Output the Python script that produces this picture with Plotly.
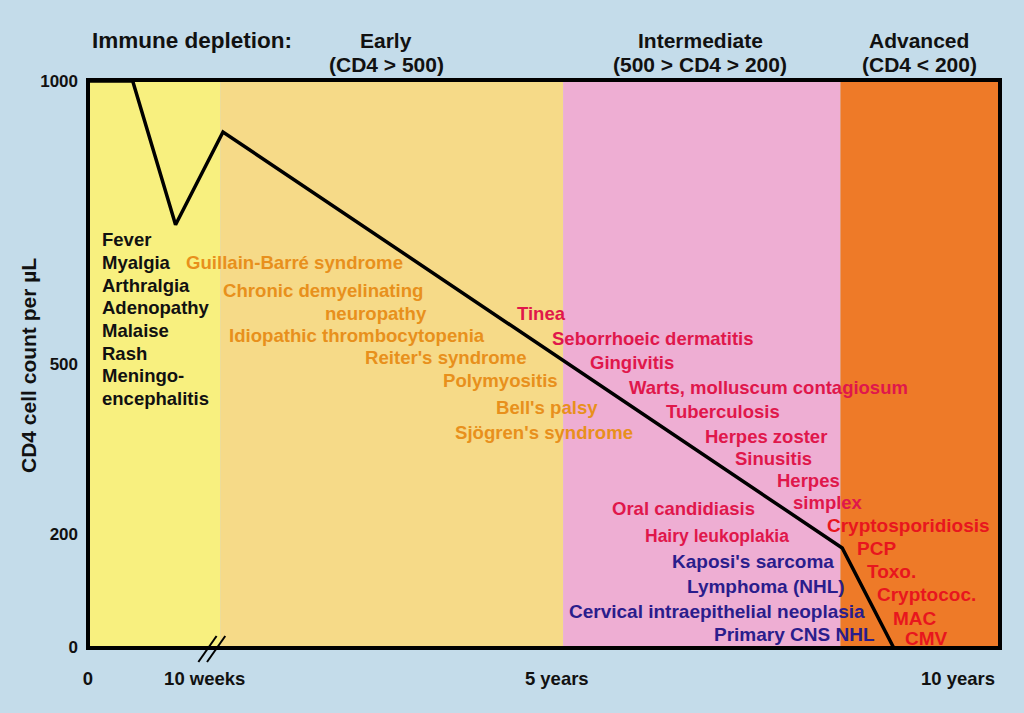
import plotly.graph_objects as go

# ---------------- data ----------------
# time axis in arbitrary "chart units" (0-100), axis is broken after 10 weeks
x_tick_vals = [0, 12.8, 51.4, 95.4]
x_tick_text = ["0", "10 weeks", "5 years", "10 years"]
y_tick_vals = [0, 200, 500, 1000]
y_tick_text = ["0", "200", "500", "1000"]

# CD4 count course
cd4_time = [0, 4.9, 9.6, 14.8, 82.7, 88.3]
cd4_count = [1000, 1000, 746, 910, 175, 0]

# stage bands (x edges) and colours
band_edges = [0, 14.5, 52.1, 82.5, 100]
band_colors = ["#f8f07f", "#f6da88", "#eeaed3", "#ee7a28"]

break_x = 13.6

stage_names = ["Early", "Intermediate", "Advanced"]
stage_ranges = ["(CD4 > 500)", "(500 > CD4 > 200)", "(CD4 < 200)"]

acute_symptoms = ["Fever", "Myalgia", "Arthralgia", "Adenopathy", "Malaise",
                  "Rash", "Meningo-", "encephalitis"]

early_conditions = ["Guillain-Barré syndrome", "Chronic demyelinating", "neuropathy",
                    "Idiopathic thrombocytopenia", "Reiter's syndrome",
                    "Polymyositis", "Bell's palsy", "Sjögren's syndrome"]

intermediate_conditions = ["Tinea", "Seborrhoeic dermatitis", "Gingivitis",
                           "Warts, molluscum contagiosum", "Tuberculosis",
                           "Herpes zoster", "Sinusitis", "Herpes", "simplex",
                           "Oral candidiasis", "Hairy leukoplakia"]

malignancies = ["Kaposi's sarcoma", "Lymphoma (NHL)",
                "Cervical intraepithelial neoplasia", "Primary CNS NHL"]

advanced_conditions = ["Cryptosporidiosis", "PCP", "Toxo.", "Cryptococ.", "MAC", "CMV"]

# ---------------- layout helpers ----------------
W, H = 1024, 713
ML, MR, MT, MB = 88, 24, 80, 65
PW, PH = W - ML - MR, H - MT - MB


def px(xp):
    return (xp - ML) / PW


def py(yp):
    return (H - MB - yp) / PH


FONT = "Liberation Sans, Arial, Helvetica, sans-serif"
BG = "#c4dcea"

fig = go.Figure()

shapes = []
for i, c in enumerate(band_colors):
    shapes.append(dict(type="rect", xref="x", yref="paper",
                       x0=band_edges[i], x1=band_edges[i + 1], y0=0, y1=1,
                       fillcolor=c, line=dict(width=0), layer="below"))

fig.add_trace(go.Scatter(x=cd4_time, y=cd4_count, mode="lines",
                         line=dict(color="black", width=3.5),
                         hoverinfo="skip", showlegend=False))

# border
shapes.append(dict(type="rect", xref="paper", yref="paper", x0=0, x1=1, y0=0, y1=1,
                   line=dict(color="black", width=4), layer="above"))
# axis break marks
for off in (-0.5, 0.45):
    shapes.append(dict(type="line", xref="x", yref="paper",
                       x0=break_x + off - 1.0, x1=break_x + off + 1.0,
                       y0=py(662), y1=py(636),
                       line=dict(color="black", width=2), layer="above"))

ann = []


def add_text(txt, xp, yp, color, size, anchor="left", family=FONT):
    ann.append(dict(text="<b>" + txt + "</b>", xref="paper", yref="paper",
                    x=px(xp), y=py(yp), xanchor=anchor, yanchor="middle",
                    showarrow=False, font=dict(family=family, size=size, color=color)))


# headers
add_text("Immune depletion:", 90, 41, "#111111", 22.5)
for name, rng, cx in zip(stage_names, stage_ranges, [386, 700, 919]):
    add_text(name, cx, 40, "#111111", 21, "center")
    add_text(rng, cx, 64, "#111111", 21, "center")

# acute symptoms
for i, t in enumerate(acute_symptoms):
    add_text(t, 100, 240 + i * 22.6, "#111111", 18.5)

early_pos = [(184, 262), (221, 290), (323, 313), (227, 335), (363, 357),
             (441, 380), (494, 407), (453, 432)]
for t, (xp, yp) in zip(early_conditions, early_pos):
    add_text(t, xp, yp, "#e8901c", 18.6)

inter_pos = [(515, 313), (550, 338), (588, 362), (627, 387), (664, 411),
             (703, 436), (733, 458), (775, 480), (791, 502), (610, 509), (643, 536)]
for t, (xp, yp) in zip(intermediate_conditions, inter_pos):
    size = 17.5 if t == "Hairy leukoplakia" else 18.5
    add_text(t, xp, yp, "#e0174b", size)

mal_pos = [(670, 561), (685, 586), (567, 611), (712, 634)]
for t, (xp, yp) in zip(malignancies, mal_pos):
    add_text(t, xp, yp, "#2a1d8c", 19)

adv_pos = [(825, 525), (855, 548), (865, 571), (875, 594), (891, 618), (903, 638)]
for t, (xp, yp) in zip(advanced_conditions, adv_pos):
    add_text(t, xp, yp, "#e8161e", 19)

# y axis title
ann.append(dict(text="<b>CD4 cell count per µL</b>", xref="paper", yref="paper",
                x=px(28), y=py(366), xanchor="center", yanchor="middle",
                textangle=-90, showarrow=False,
                font=dict(family=FONT, size=21, color="#111111")))

fig.update_layout(
    width=W, height=H,
    margin=dict(l=ML, r=MR, t=MT, b=MB, pad=0),
    paper_bgcolor=BG, plot_bgcolor=BG,
    shapes=shapes, annotations=ann,
    xaxis=dict(range=[0, 100], showgrid=False, zeroline=False, showline=False,
               tickmode="array", tickvals=x_tick_vals, ticktext=["<b>%s</b>" % t for t in x_tick_text],
               ticks="", ticklabelstandoff=17,
               tickfont=dict(family=FONT, size=18.5, color="#111111"), fixedrange=True),
    yaxis=dict(range=[-1.8, 1001.8], showgrid=False, zeroline=False, showline=False,
               tickmode="array", tickvals=y_tick_vals, ticktext=["<b>%s</b>" % t for t in y_tick_text],
               ticks="", ticklabelstandoff=9,
               tickfont=dict(family=FONT, size=17, color="#111111"), fixedrange=True),
    showlegend=False,
)

fig.write_html(
    "out.html",
    config={"displayModeBar": False},
    post_script="document.body.style.margin='0px';document.body.style.backgroundColor='" + BG + "';",
)
